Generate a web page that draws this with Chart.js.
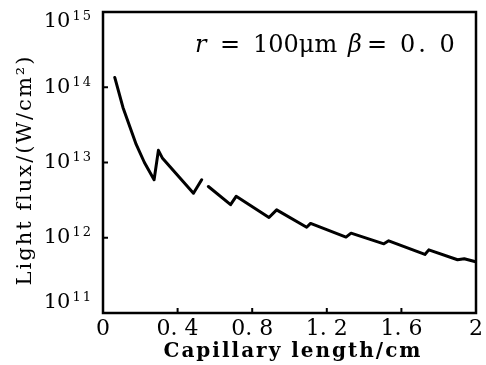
<!DOCTYPE html>
<html><head><meta charset="utf-8">
<script src="https://cdn.jsdelivr.net/npm/chart.js@4/dist/chart.umd.min.js"></script>
<style>html,body{margin:0;padding:0;background:#fff}#wrap{width:486px;height:365px}</style>
</head><body><div id="wrap"><canvas id="c" width="486" height="365"></canvas></div>
<script>
const lengthsCm = [0.063,0.107,0.178,0.222,0.274,0.297,0.318,0.485,0.529,0.547,0.565,0.684,0.714,0.890,0.931,1.092,1.113,1.303,1.330,1.506,1.532,1.726,1.747,1.901,1.937,1.998];
const fluxWcm2 = [1.35e14,5.4e13,1.74e13,1.0e13,5.9e12,1.45e13,1.15e13,3.9e12,5.9e12,null,4.8e12,2.75e12,3.55e12,1.86e12,2.35e12,1.38e12,1.55e12,1.02e12,1.15e12,8.3e11,9.1e11,6.0e11,6.9e11,5.1e11,5.25e11,4.8e11];
const xTicks = [0,0.4,0.8,1.2,1.6,2];
const xTickLabels = ['0','0. 4','0. 8','1. 2','1. 6','2'];
const yExponents = [11,12,13,14,15];
const yTickBase = '10';
const yTickExps = ['11','12','13','14','15'];
const xTitle = 'Capillary length/cm';
const yTitle = 'Light flux/(W/cm\u00B2)';
const annotationParts = [['r',true],['=',false],['100μm',false],['β',true],['=',false],['0. 0',false]];

const SERIF = '"DejaVu Serif","Liberation Serif",serif';
const frame = {
  id:'frame',
  afterDraw(chart){
    const {ctx, chartArea:a, scales} = chart;
    ctx.save();
    ctx.strokeStyle='#000'; ctx.lineWidth=2.5;
    ctx.strokeRect(a.left, a.top, a.right-a.left, a.bottom-a.top);
    ctx.lineWidth=2;
    xTicks.slice(1,-1).forEach(v=>{
      const px = scales.x.getPixelForValue(v);
      ctx.beginPath(); ctx.moveTo(px,a.bottom); ctx.lineTo(px,a.bottom-5); ctx.stroke();
    });
    yExponents.slice(1,-1).forEach(e=>{
      const py = scales.y.getPixelForValue(Math.pow(10,e));
      ctx.beginPath(); ctx.moveTo(a.left,py); ctx.lineTo(a.left+5,py); ctx.stroke();
    });
    // y tick labels: 10 with superscript exponent
    ctx.fillStyle='#000';
    ctx.textBaseline='middle';
    yExponents.forEach((e,i)=>{
      let py = scales.y.getPixelForValue(Math.pow(10,e));
      py = Math.min(Math.max(py, a.top+10), a.bottom-10);
      ctx.font = '13px '+SERIF; ctx.textAlign='right';
      ctx.letterSpacing = '2px';
      const ew = ctx.measureText(yTickExps[i]).width;
      ctx.fillText(yTickExps[i], a.left-10, py-5);
      ctx.letterSpacing = '0px';
      ctx.font = '21px '+SERIF;
      ctx.fillText(yTickBase, a.left-12-ew, py);
    });
    // y axis title (rotated)
    ctx.save();
    ctx.translate(31, 170); ctx.rotate(-Math.PI/2);
    ctx.textAlign='center'; ctx.textBaseline='alphabetic';
    ctx.font = '21px '+SERIF; ctx.letterSpacing = '2px';
    ctx.fillText(yTitle, 0, 0);
    ctx.restore();
    // x axis title
    ctx.textAlign='center'; ctx.textBaseline='alphabetic';
    ctx.font = 'bold 20px '+SERIF; ctx.letterSpacing = '2px';
    ctx.fillText(xTitle, 293, 357);
    // annotation
    ctx.textAlign='left';
    const xs = [195,220,253,348,367,400];
    annotationParts.forEach(([t,it],i)=>{
      ctx.letterSpacing = (i===5)?'3px':'0px';
      ctx.font = (it?'italic ':'')+'24px '+SERIF;
      ctx.fillText(t, xs[i], 52);
    });
    ctx.restore();
  }
};

const pts = lengthsCm.map((x,i)=>({x, y: fluxWcm2[i]}));
new Chart(document.getElementById('c'), {
  type:'scatter',
  data:{datasets:[{data:pts, showLine:true, spanGaps:false, borderColor:'#000', borderWidth:3, pointRadius:0, tension:0, borderJoinStyle:'round', borderCapStyle:'round'}]},
  options:{
    responsive:false, animation:false, devicePixelRatio:1,
    layout:{padding:{left:0,right:4,top:12,bottom:0}},
    plugins:{legend:{display:false}, tooltip:{enabled:false}},
    scales:{
      x:{type:'linear', min:0, max:2,
        afterBuildTicks(s){ s.ticks = xTicks.map(v=>({value:v})); },
        afterFit(s){ s.height = 52; },
        grid:{display:false, drawTicks:false}, border:{display:false},
        ticks:{color:'#000', font:{family:SERIF, size:22}, padding:3, maxRotation:0, autoSkip:false,
          callback:(v)=>{ const i = xTicks.indexOf(Number(v.toFixed(1))); return i>=0?xTickLabels[i]:''; }},
        title:{display:false}
      },
      y:{type:'logarithmic', min:1e11, max:1e15,
        afterBuildTicks(s){ s.ticks = yExponents.map(e=>({value:Math.pow(10,e)})); },
        afterFit(s){ s.width = 103; },
        grid:{display:false, drawTicks:false}, border:{display:false},
        ticks:{display:false},
        title:{display:false}
      }
    }
  },
  plugins:[frame]
});
</script></body></html>
